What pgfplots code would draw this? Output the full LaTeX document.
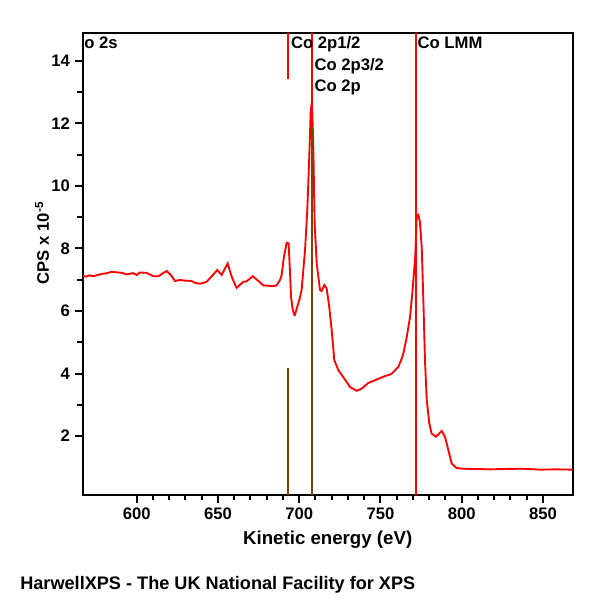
\documentclass[border=0pt]{standalone}
\usepackage{fontspec}
\setmainfont{Liberation Sans}
\usepackage{pgfplots}
\pgfplotsset{compat=1.18}
\definecolor{lbrown}{RGB}{128,64,0}
\newcommand\lf{\bfseries\fontsize{12.5}{15}\selectfont}
\begin{document}
\begin{tikzpicture}
\path[use as bounding box] (-62.03pt,-78.75pt) rectangle (387.97pt,371.25pt);
\begin{axis}[
  at={(0,0)}, anchor=south west,
  scale only axis, width=367.5pt, height=346.3pt,
  xmin=566.8, xmax=868.3, ymin=0.12, ymax=14.875,
  xtick={600,650,...,850}, minor x tick num=4,
  ytick={2,4,...,14}, minor y tick num=1,
  tick pos=left, tick align=outside,
  major tick length=6pt, minor tick length=4pt,
  tick style={line width=1.5pt, black},
  axis line style={line width=1.5pt},
  /pgf/number format/assume math mode=true,
  /pgf/number format/1000 sep={},
  ticklabel style={font=\lf},
  xlabel={Kinetic energy (eV)},
  xlabel style={font=\bfseries\fontsize{14}{16}\selectfont, at={(rel axis cs:0.5,0)}, anchor=base, yshift=-36.75pt},
  clip=true,
]
\addplot[red, line width=1.4pt] coordinates {
(567.0,7.12) (569,7.10) (571,7.14) (573.3,7.11) (576,7.15) (578,7.18) (581,7.20)
(584.6,7.25) (587,7.24) (590.8,7.22) (593.8,7.17) (597.9,7.21) (600,7.15) (602,7.23)
(606,7.22) (608,7.17) (610.2,7.11) (613.3,7.11) (616,7.20) (618.5,7.28) (621,7.15)
(623.6,6.96) (626.6,6.99) (630,6.97) (633.8,6.96) (635.9,6.90) (639,6.87) (643,6.93)
(646.2,7.11) (649.6,7.31) (652.3,7.15) (656,7.52) (658.5,7.09) (661.5,6.74) (665.6,6.93)
(667.7,6.95) (671.4,7.11) (673.8,7.01) (677.9,6.82) (682,6.80) (685.1,6.80) (686.2,6.83)
(688.2,6.99) (689.2,7.15) (690.6,7.73) (692.3,8.18) (693.5,8.16) (694.3,7.3) (695,6.45)
(696,6.05) (697,5.88) (697.4,5.87) (698.5,6.08) (700.1,6.35) (701.5,6.67) (703.6,7.95)
(705,9.23) (706.2,10.93) (707.1,12.4) (707.6,12.6) (708.1,12.3) (708.7,11.25) (709.5,8.80)
(710.8,7.52) (712.8,6.67) (713.8,6.64) (715.5,6.83) (716.9,6.72) (718.5,6.13) (720,5.39)
(721.6,4.43) (724.1,4.11) (727.1,3.89) (731.3,3.57) (735.4,3.45) (738.5,3.52) (742.5,3.70)
(747.7,3.81) (752.8,3.92) (755.9,3.97) (757,4.00) (760,4.16) (761,4.21) (763.1,4.48)
(764.1,4.64) (766.2,5.17) (768.2,5.81) (769.4,6.45) (770.6,7.20) (771.4,7.73) (772.3,9.01)
(773.3,9.07) (774.3,8.85) (775.4,8.05) (776.4,6.35) (777.4,4.43) (778.5,3.15) (780.1,2.40)
(781.5,2.08) (784.2,1.98) (787.7,2.17) (789.7,1.98) (791.8,1.55) (793.8,1.13) (796.9,0.98)
(801,0.96) (810,0.95) (817.4,0.94) (825,0.95) (837.9,0.96) (848.2,0.93) (858,0.94) (868.3,0.93)
};
% marker lines
\addplot[red, line width=1.3pt] coordinates {(692.9,13.41) (692.9,14.875)};
\addplot[lbrown, line width=1.3pt] coordinates {(692.9,0.12) (692.9,4.17)};
\addplot[red, line width=1.3pt] coordinates {(708.0,11.9) (708.0,14.875)};
\addplot[lbrown, line width=1.3pt] coordinates {(708.0,0.12) (708.0,11.9)};
\addplot[red, line width=1.3pt] coordinates {(771.7,0.12) (771.7,14.875)};
\node[anchor=base west, inner sep=0pt, font=\lf] at (axis cs:694.8,14.40) {Co 2p1/2};
\node[anchor=base west, inner sep=0pt, font=\lf] at (axis cs:709.3,13.68) {Co 2p3/2};
\node[anchor=base west, inner sep=0pt, font=\lf] at (axis cs:709.3,13.01) {Co 2p};
\node[anchor=base west, inner sep=0pt, font=\lf] at (axis cs:772.7,14.40) {Co LMM};
\node[anchor=base, inner sep=0pt, font=\lf] at (rel axis cs:0.5,1) [yshift=6pt] {survey};
\end{axis}
\begin{scope}
\clip (0,0) rectangle (367.5pt,346.3pt);
\node[anchor=base west, inner sep=0pt, font=\lf] at (-8pt,335pt) {Co 2s};
\end{scope}
\node[rotate=90, anchor=center, inner sep=0pt, font=\lf] at (-30.5pt,189pt) {CPS x 10\textsuperscript{-5}};
\node[anchor=base west, inner sep=0pt, font=\bfseries\fontsize{13.6}{16}\selectfont] at (-47pt,-71pt) {HarwellXPS - The UK National Facility for XPS};
\end{tikzpicture}
\end{document}
